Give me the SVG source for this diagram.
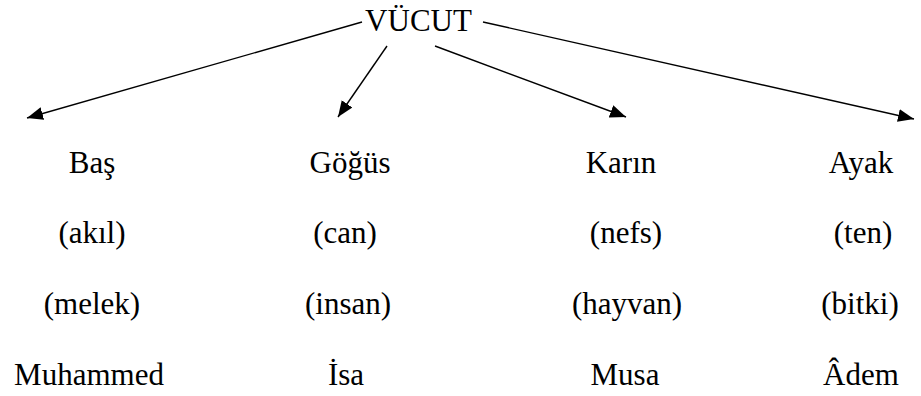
<svg xmlns="http://www.w3.org/2000/svg" width="921" height="396" viewBox="0 0 921 396">
<style>
text{font-family:"Liberation Serif","Times New Roman","DejaVu Serif",serif;font-size:31px;fill:#000;text-anchor:middle}
.c{stroke:#000;stroke-width:1.4;fill:none;marker-end:url(#ah)}
</style>
<defs>
<marker id="ah" markerUnits="userSpaceOnUse" markerWidth="18" markerHeight="14" refX="16" refY="6.5" orient="auto">
<path d="M0,0 L16,6.5 L0,13 Z" fill="#000"/>
</marker>
</defs>
<rect width="921" height="396" fill="#fff"/>
<g id="connectors">
<path class="c" d="M362,22 L27,118"/>
<path class="c" d="M387,46 L338,117"/>
<path class="c" d="M435,46 L626,117"/>
<path class="c" d="M483,22 L914,119"/>
</g>
<g id="vucut"><text x="418.5" y="31">VÜCUT</text></g>
<g id="bas">
<text x="92" y="172.5">Baş</text>
<text x="92" y="243">(akıl)</text>
<text x="92" y="314">(melek)</text>
<text x="89" y="385">Muhammed</text>
</g>
<g id="gogus">
<text x="350" y="172.5">Göğüs</text>
<text x="345" y="243">(can)</text>
<text x="348" y="314">(insan)</text>
<text x="346" y="385">İsa</text>
</g>
<g id="karin">
<text x="621" y="172.5">Karın</text>
<text x="626" y="243">(nefs)</text>
<text x="627" y="314">(hayvan)</text>
<text x="625" y="385">Musa</text>
</g>
<g id="ayak">
<text x="861" y="172.5">Ayak</text>
<text x="863" y="243">(ten)</text>
<text x="860" y="314">(bitki)</text>
<text x="861" y="385">Âdem</text>
</g>
</svg>
